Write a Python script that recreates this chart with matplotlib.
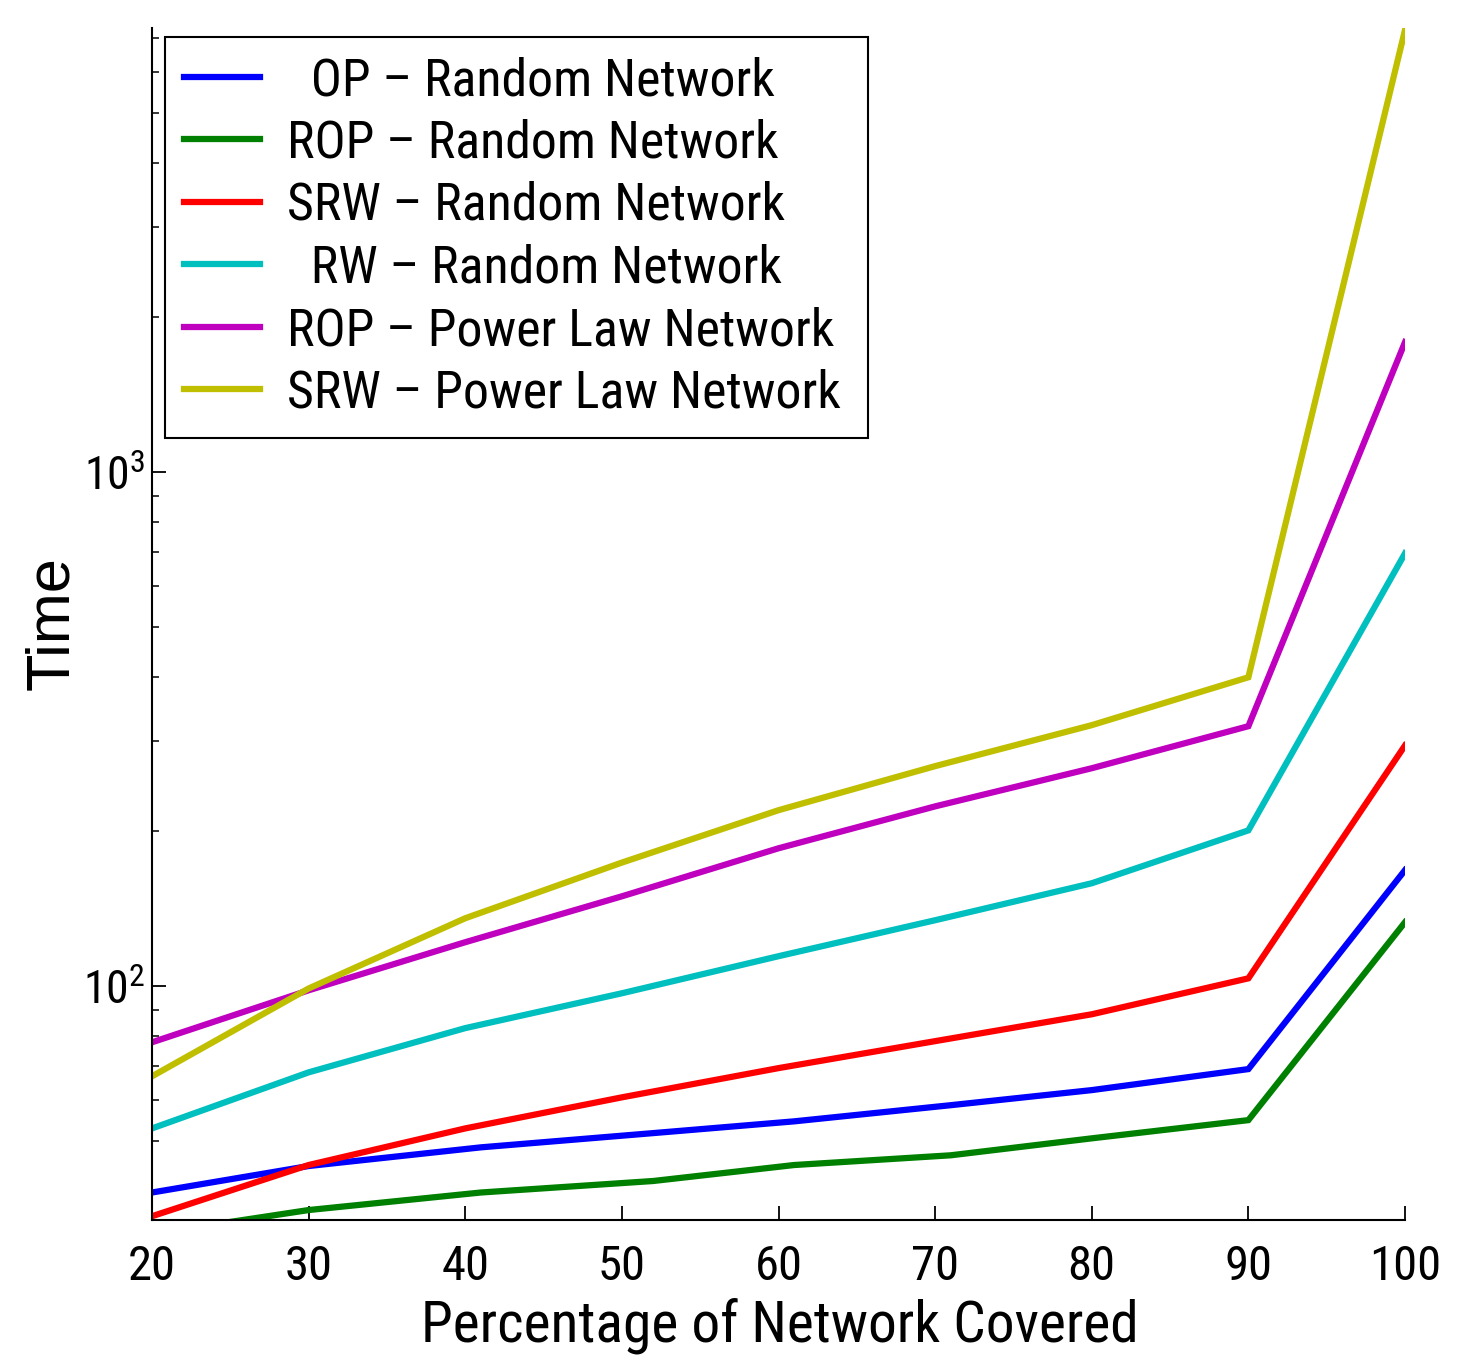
import os
import matplotlib
matplotlib.use("Agg")
import matplotlib.pyplot as plt
from matplotlib import font_manager as fm
from matplotlib.font_manager import FontProperties
from matplotlib.ticker import LogLocator, NullFormatter

# ---- data ----
x_std = [20, 30, 40, 50, 60, 70, 80, 90, 100]
x_op = [20, 30, 41, 52, 61, 71, 80, 90, 100]

op_random = [39.7, 44.7, 48.6, 51.8, 54.6, 58.7, 62.8, 69.0, 168.2]
rop_random = [33.0, 36.7, 39.7, 41.8, 44.9, 46.9, 50.6, 54.9, 133.2]
srw_random = [35.7, 44.9, 52.9, 60.8, 69.3, 78.2, 88.2, 103.6, 294.0]
rw_random = [52.9, 68.0, 82.9, 96.9, 114.4, 134.4, 158.6, 201.0, 695.0]
rop_power = [77.8, 98.2, 121.8, 149.6, 185.5, 223.8, 265.5, 320.5, 1790.0]
srw_power = [66.8, 99.0, 135.6, 174.0, 220.0, 268.0, 322.0, 399.0, 7244.0]

labels = ["  OP \u2013 Random Network", "ROP \u2013 Random Network", "SRW \u2013 Random Network",
          "  RW \u2013 Random Network", "ROP \u2013 Power Law Network", "SRW \u2013 Power Law Network"]
x_ticks = [20, 30, 40, 50, 60, 70, 80, 90, 100]
y_tick_vals = [100, 1000]
y_tick_labels = ['10$^{2}$', '10$^{3}$']

colors = ['#0000ff', '#008000', '#ff0000', '#00bfbf', '#bf00bf', '#bfbf00']
series = [(x_op, op_random), (x_op, rop_random), (x_std, srw_random),
          (x_std, rw_random), (x_std, rop_power), (x_std, srw_power)]


# ---- fonts: prefer a narrow sans (the reference text is horizontally condensed) ----
def pick_font(keys):
    bad = ('bold', 'italic', 'oblique', 'light', 'thin', 'medium', 'black',
           'semi', 'extra', 'heavy', 'mono')
    files = sorted(set(f.fname for f in fm.fontManager.ttflist))
    for k in keys:
        for f in files:
            b = os.path.basename(f).lower().replace(' ', '').replace('_', '')
            if k in b and not any(w in b.replace(k, '') for w in bad):
                return f
    return None


narrow_path = pick_font(['liberationsansnarrow-regular', 'arialnarrow', 'robotocondensed-regular',
                         'notosans-condensed.', 'opensanscondensed-regular', 'opensans-condensed.',
                         'dejavusanscondensed.', 'liberationsans-regular'])
regular_path = pick_font(['liberationsans-regular', 'arial.', 'dejavusans.'])
fp_narrow = FontProperties(fname=narrow_path) if narrow_path else FontProperties(family='DejaVu Sans')
fp_regular = FontProperties(fname=regular_path) if regular_path else FontProperties(family='DejaVu Sans')

# superscripts of the 10^n tick labels drawn in the text's own face
plt.rcParams['mathtext.default'] = 'regular'

DPI = 100
fig = plt.figure(figsize=(14.61, 13.57), dpi=DPI)
renderer = fig.canvas.get_renderer()


def measure(fp, s, size):
    p = fp.copy()
    p.set_size(size)
    t = fig.text(0, 0, s, fontproperties=p)
    bb = t.get_window_extent(renderer)
    t.remove()
    return bb.width, bb.height


def fitted(fp, s, target_px, ref=50.0):
    w, _ = measure(fp, s, ref)
    p = fp.copy()
    p.set_size(ref * target_px / w)
    return p


fp_leg = fitted(fp_narrow, "ROP \u2013 Random Network", 492)
fp_xlab = fitted(fp_narrow, "Percentage of Network Covered", 718)
fp_xtick = fitted(fp_narrow, "100", 72)
fp_ytick = fitted(fp_narrow, "10", 45)
fp_ylab = fitted(fp_regular, "Time", 134)

ax = fig.add_axes([152 / 1461, 1 - 1220 / 1357, 1253 / 1461, 1192 / 1357])

for (xs, ys), c, lab in zip(series, colors, labels):
    ax.plot(xs, ys, color=c, lw=4.5, label=lab, solid_joinstyle='miter')

ax.set_yscale('log')
ax.set_xlim(20, 100)
ax.set_ylim(35.1, 7310)

ax.set_xticks(x_ticks, labels=[str(v) for v in x_ticks], fontproperties=fp_xtick)
ax.set_yticks(y_tick_vals, labels=y_tick_labels, fontproperties=fp_ytick)
ax.yaxis.set_minor_locator(LogLocator(base=10, subs=range(2, 10)))
ax.yaxis.set_minor_formatter(NullFormatter())

ax.tick_params(axis='both', which='major', direction='in', length=10, width=1.3)
ax.tick_params(axis='y', which='minor', direction='in', length=5, width=1.1)
ax.tick_params(axis='x', which='major', pad=17)
ax.tick_params(axis='y', which='major', pad=5)

for s in ['top', 'right']:
    ax.spines[s].set_visible(False)
for s in ['left', 'bottom']:
    ax.spines[s].set_linewidth(1.5)

ax.set_xlabel('Percentage of Network Covered', fontproperties=fp_xlab)
ax.xaxis.label.set_verticalalignment('baseline')
ax.xaxis.set_label_coords(0.5008, (1220 - 1342) / 1192)

ax.set_ylabel('Time', fontproperties=fp_ylab)
ax.yaxis.label.set_verticalalignment('baseline')
ax.yaxis.set_label_coords((68 - 152) / 1253, (1220 - 623.5) / 1192)

# ---- legend layout from reference pixel geometry ----
fs_px = fp_leg.get_size_in_points() * DPI / 72.0
_, h_px = measure(fp_leg, "ROP \u2013 Random Network", fp_leg.get_size_in_points())
row_pitch = 62.5
labelspacing = max((row_pitch - h_px) / fs_px, -0.3)
pad_v = max(38 - h_px / 2, 4)
pad_px = 0.5 * pad_v + 0.5 * 25
borderpad = pad_px / fs_px
frame_top = 81 - h_px / 2 - pad_px
frame_left, frame_right, frame_bottom = 165, 868, 428
ax_left, ax_bottom, ax_w, ax_h = 152, 1220, 1253, 1192
anchor = ((frame_left - ax_left) / ax_w, (ax_bottom - frame_bottom) / ax_h,
          (frame_right - frame_left) / ax_w, (frame_bottom - frame_top) / ax_h)

leg = ax.legend(loc='upper left', bbox_to_anchor=anchor, mode='expand', borderaxespad=0,
                prop=fp_leg, frameon=True, fancybox=False, edgecolor='black',
                handlelength=76 / fs_px, handletextpad=27 / fs_px,
                labelspacing=labelspacing, borderpad=borderpad)
leg.get_frame().set_linewidth(1.5)
leg.get_frame().set_alpha(None)
leg.get_frame().set_facecolor('white')

fig.savefig('out.png', dpi=DPI, facecolor='white')
